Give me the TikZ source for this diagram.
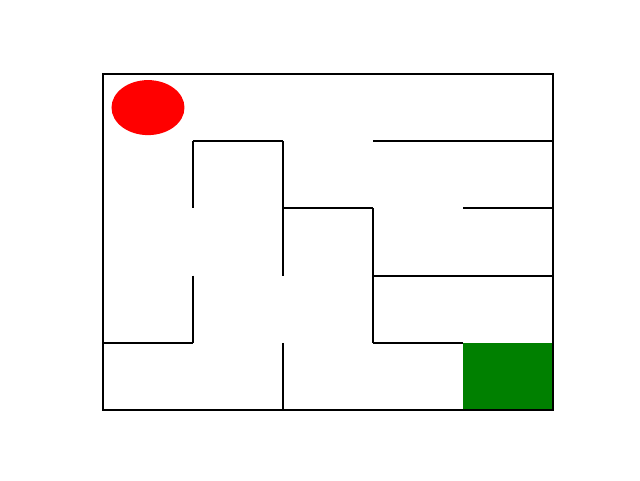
\documentclass[tikz,border=0pt]{standalone}
\usepackage{tikz}
\tikzset{
  wall/.style={line width=0.04cm, black},
  goal/.style={fill={rgb,255:red,0;green,128;blue,0}},
  ball/.style={fill=red}
}
\begin{document}
\begin{tikzpicture}[x=1.8cm, y=1.344cm]
                \useasboundingbox (-1.1444,-1.0417) rectangle (5.9667,6.1012);
                \fill[goal] (4,0) rectangle (5,1);
                \fill[ball] (0.5,4.5) ellipse [x radius=0.73cm, y radius=0.55cm];
                \draw[wall] (0,0) rectangle (5,5);
                \foreach \xa/\ya/\xb/\yb in {1/4/2/4, 3/4/5/4, 1/4/1/3, 2/4/2/2, 2/3/3/3, 4/3/5/3,
                    3/3/3/1, 3/2/5/2, 1/2/1/1, 0/1/1/1, 3/1/4/1, 2/1/2/0}
                \draw[wall] (\xa,\ya) -- (\xb,\yb);
            \end{tikzpicture}
\end{document}
